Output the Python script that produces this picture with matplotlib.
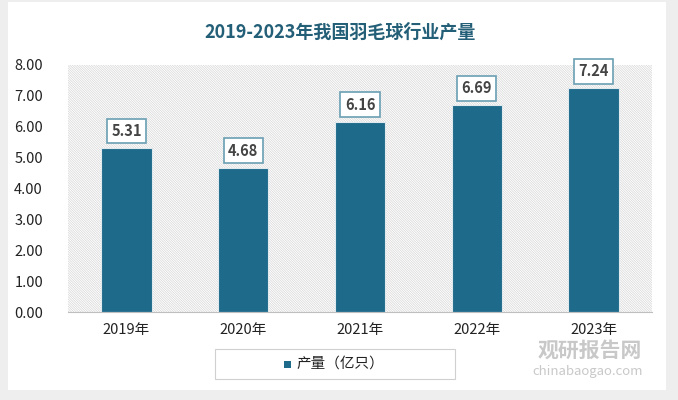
import matplotlib.pyplot as plt
from matplotlib.patches import Rectangle

plt.rcParams['font.family'] = ['Noto Sans CJK SC', 'DejaVu Sans']
plt.rcParams['hatch.linewidth'] = 0.5

years = ['2019年', '2020年', '2021年', '2022年', '2023年']
output = [5.31, 4.68, 6.16, 6.69, 7.24]
yticks = [0, 1, 2, 3, 4, 5, 6, 7, 8]

bar_color = '#1d6a8b'
title_color = '#245f78'

fig = plt.figure(figsize=(6.78, 4.0), dpi=100)
fig.patch.set_facecolor('#eeeeee')
# white card behind everything
fig.patches.append(Rectangle((8 / 678, 10 / 400), 658 / 678, 388 / 400, transform=fig.transFigure,
                             facecolor='white', edgecolor='none', zorder=-10))

ax = fig.add_axes([68 / 678, 88 / 400, 584 / 678, 247 / 400])
ax.set_facecolor('white')
# striped plot background
ax.add_patch(Rectangle((0, 0), 1, 1, transform=ax.transAxes, facecolor='white',
                       edgecolor='#d6d6d6', linewidth=0, hatch='\\' * 14, zorder=0))

x = list(range(len(years)))
ax.bar(x, output, width=0.43, color=bar_color, edgecolor='#dfe9ee', linewidth=0.8, zorder=2)

for xi, v in zip(x, output):
    ax.text(xi, v + 0.55, f'{v:.2f}', ha='center', va='center', fontsize=10.5, fontweight='bold',
            color='#444444', zorder=3,
            bbox=dict(boxstyle='square,pad=0.3', facecolor='white', edgecolor='#6a9fb3', linewidth=1.2))

ax.set_xlim(-0.5, 4.5)
ax.set_ylim(0, 8)
ax.set_yticks(yticks)
ax.set_yticklabels([f'{t:.2f}' for t in yticks], fontsize=10.5, color='#222222')
ax.set_xticks(x)
ax.set_xticklabels(years, fontsize=10.5, color='#222222')
ax.tick_params(length=0, pad=8)
ax.tick_params(axis='y', pad=18)
for s in ['top', 'right', 'left']:
    ax.spines[s].set_visible(False)
ax.spines['bottom'].set_color('#bfbfbf')

fig.text(340 / 678, 1 - 32 / 400, '2019-2023年我国羽毛球行业产量', ha='center', va='center',
         fontsize=13, fontweight='bold', color=title_color)

# legend box
fig.patches.append(Rectangle((215 / 678, 1 - 379 / 400), 240 / 678, 30 / 400, transform=fig.transFigure,
                             facecolor='white', edgecolor='#d0d0d0', linewidth=0.8, zorder=1))
fig.patches.append(Rectangle((284 / 678, 1 - 368 / 400), 7 / 678, 7 / 400, transform=fig.transFigure,
                             facecolor=bar_color, edgecolor='none', zorder=2))
fig.text(296 / 678, 1 - 364 / 400, '产量（亿只）', ha='left', va='center', fontsize=10.5, color='#222222')

# watermark
fig.text(538 / 678, 1 - 350 / 400, '观研报告网', ha='left', va='center', fontsize=15, fontweight='bold',
         color='#bbbbbb', alpha=0.8)
fig.text(532 / 678, 1 - 371 / 400, 'chinabaogao.com', ha='left', va='center', fontsize=9.5,
         color='#bbbbbb', alpha=0.8)

fig.savefig('out.png', dpi=100)
